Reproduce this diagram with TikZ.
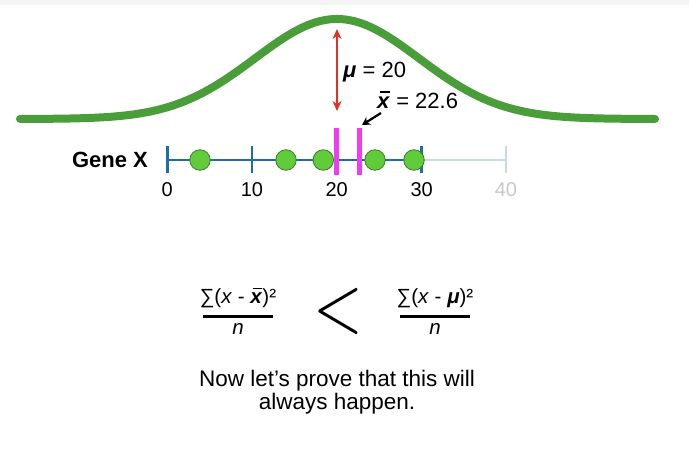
\documentclass[tikz,border=0pt]{standalone}
\usepackage{fontspec}
\setmainfont{Liberation Sans}
\usetikzlibrary{arrows.meta}
\definecolor{curvegreen}{RGB}{74,158,58}
\definecolor{dotfill}{RGB}{96,204,58}
\definecolor{dotline}{RGB}{62,120,40}
\definecolor{axisblue}{RGB}{30,108,176}
\definecolor{axislight}{RGB}{200,218,234}
\definecolor{magbar}{RGB}{240,60,240}
\definecolor{redarr}{RGB}{228,48,32}
\definecolor{topgray}{RGB}{244,244,244}
\definecolor{lightlabel}{RGB}{200,200,200}
\newcommand{\xbr}{\textbf{\textit{x}}\llap{\raisebox{0.7em}{\rule{0.42em}{0.08em}}\hspace{0.03em}}}
\tikzset{
  bell/.style={curvegreen, line width=8pt, line cap=round},
  axisline/.style={axisblue, line width=2.5pt},
  axisfaint/.style={axislight, line width=2.5pt},
  tickmark/.style={line width=2.5pt},
  dot/.style={circle, minimum size=20.5pt, inner sep=0pt, fill=dotfill, draw=dotline, line width=0.8pt},
  magline/.style={magbar, line width=5pt},
  ticklabel/.style={font=\fontsize{20}{22}\selectfont, inner sep=0pt},
  lbl/.style={font=\fontsize{22}{24}\selectfont, inner sep=0pt, anchor=west},
  fracnum/.style={font=\fontsize{20.5}{22}\selectfont, inner sep=0pt},
  fracbar/.style={line width=3pt},
}
\begin{document}
\begin{tikzpicture}[x=1pt,y=-1pt]
\useasboundingbox (0,0) rectangle (689,465);
\fill[topgray] (0,0) rectangle (689,5);
% bell curve
\draw[bell] plot[domain=20:655,samples=220] (\x,{119-100*exp(-0.5*((\x-337)/82)*((\x-337)/82))});
% axis
\coordinate (t0) at (167.3,160);
\coordinate (t10) at (252,160);
\coordinate (t20) at (336.7,160);
\coordinate (t30) at (421.7,160);
\coordinate (t40) at (506,160);
\draw[axisline] (t0) -- (t30);
\draw[axisfaint] (t30) -- (t40);
\foreach \t in {t0,t10,t30}{\draw[tickmark,axisblue] ([yshift=-13.5pt]\t) -- ([yshift=13.5pt]\t);}
\draw[tickmark,axislight] ([yshift=-13.5pt]t40) -- ([yshift=13.5pt]t40);
% labels
\node[ticklabel] (l0) at (167.3,190) {0};
\node[ticklabel] (l10) at (252,190) {10};
\node[ticklabel] (l20) at (336.7,190) {20};
\node[ticklabel] (l30) at (421.7,190) {30};
\node[ticklabel, text=lightlabel] (l40) at (506,190) {40};
\node[font=\fontsize{22}{24}\selectfont\bfseries, inner sep=0pt] (gene) at (110,160) {Gene X};
% dots
\node[dot] (d1) at (200,160) {};
\node[dot] (d2) at (286,160) {};
\node[dot] (d3) at (323.3,160) {};
\node[dot] (d4) at (375,160) {};
\node[dot] (d5) at (414,160) {};
% magenta bars
\coordinate (m1t) at (336.7,128);
\coordinate (m1b) at (336.7,175);
\coordinate (m2t) at (359.3,128);
\coordinate (m2b) at (359.3,175);
\draw[magline] (m1t) -- (m1b);
\draw[magline] (m2t) -- (m2b);
% red arrow
\coordinate (rtop) at (337,29);
\coordinate (rbot) at (337,111);
\draw[redarr, line width=2pt, {Stealth[length=10pt,width=9pt]}-{Stealth[length=10pt,width=9pt]}] (rtop) -- (rbot);
\node[lbl] (mu) at (343,72) {\textbf{\textit{μ}} = 20};
\node[lbl] (xbar) at (377,100) {\xbr{} = 22.6};
\coordinate (bs) at (381,113);
\coordinate (be) at (362,125);
\draw[line width=2.2pt, -{Stealth[length=8pt,width=9pt]}] (bs) -- (be);
% formula
\node[fracnum] (n1) at (238,298) {∑(\textit{x} - \xbr)²};
\coordinate (b1l) at (203,317);
\coordinate (b1r) at (273,317);
\draw[fracbar] (b1l) -- (b1r);
\node[fracnum] (dn1) at (238,329) {\textit{n}};
\node[inner sep=0pt, font=\fontsize{10}{12}\selectfont] (lt) at (338,312) {\scalebox{6.4}[8]{$<$}};
\node[fracnum] (n2) at (435,298) {∑(\textit{x} - \textbf{\textit{μ}})²};
\coordinate (b2l) at (400,317);
\coordinate (b2r) at (470,317);
\draw[fracbar] (b2l) -- (b2r);
\node[fracnum] (dn2) at (435,329) {\textit{n}};
% bottom text
\node[align=center, inner sep=0pt, font=\fontsize{22.5}{23}\selectfont] (msg) at (337,392) {Now let’s prove that this will\\always happen.};
\end{tikzpicture}
\end{document}
